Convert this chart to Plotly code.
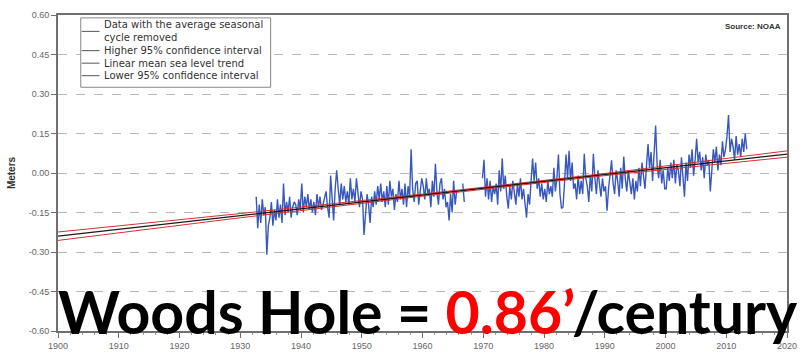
import plotly.graph_objects as go

# ---------------- data ----------------
data_start = 1932.625          # first quarterly sample (decimal year)
data_step = 0.25               # quarterly samples
sea_level_m = [
    -0.09, -0.21,
    -0.12, -0.19, -0.10, -0.16,
    -0.13, -0.31, -0.20, -0.17,
    -0.11, -0.20, -0.14, -0.18,
    -0.10, -0.17, -0.12, -0.19,
    -0.04, -0.16, -0.11, -0.15,
    -0.09, -0.17, -0.13, -0.11,
    -0.12, -0.16, -0.10, -0.14,
    -0.04, -0.15, -0.09, -0.13,
    -0.08, -0.14, -0.10, -0.15,
    -0.11, -0.16, -0.08, -0.13,
    -0.09, -0.14, -0.12, -0.10,
    -0.07, -0.13, -0.17, -0.01,
    -0.08, -0.18, -0.06, 0.01,
    -0.06, -0.12, -0.04, -0.10,
    -0.05, -0.11, -0.07, -0.12,
    -0.02, -0.10, -0.06, -0.11,
    -0.02, -0.09, -0.13, -0.07,
    -0.10, -0.235, -0.15, -0.08,
    -0.12, -0.19, -0.09, -0.13,
    -0.07, -0.12, -0.05, -0.10,
    -0.04, -0.11, -0.07, -0.13,
    -0.05, -0.12, -0.03, -0.09,
    -0.06, -0.14, -0.08, -0.11,
    -0.03, -0.10, -0.06, -0.12,
    -0.04, -0.13, -0.05, -0.09,
    0.09, -0.06, -0.11, -0.04,
    -0.03, -0.12, -0.07, -0.02,
    -0.05, -0.10, -0.02, -0.08,
    -0.06, -0.13, -0.03, -0.09,
    0.035, -0.07, -0.12, -0.04,
    -0.02, -0.10, -0.06, -0.13,
    -0.11, -0.18, -0.08, -0.15,
    -0.03, -0.12, -0.07, None,
    None, None, -0.04, -0.11,
    None, None, None, None,
    None, None, None, None,
    None, None, None, -0.02,
    0.05, -0.09, -0.02, -0.10,
    -0.03, -0.11, -0.05, -0.08,
    -0.04, -0.12, 0.01, -0.07,
    0.055, -0.06, -0.01, -0.09,
    -0.135, -0.05, -0.10, -0.03,
    -0.07, -0.12, -0.04, -0.09,
    -0.02, -0.10, -0.06, -0.11,
    -0.17, -0.08, -0.12, -0.03,
    0.055, -0.03, 0.04, -0.06,
    -0.02, -0.09, -0.04, -0.10,
    -0.06, -0.11, -0.03, -0.08,
    -0.05, -0.09, 0.02, -0.07,
    -0.02, 0.07, -0.08, -0.135,
    -0.13, -0.04, 0.07, -0.02,
    0.084, -0.03, 0.04, -0.06,
    -0.04, -0.10, -0.01, -0.08,
    -0.03, -0.08, 0.073, -0.02,
    -0.05, -0.11, -0.01, -0.07,
    0.073, -0.02, -0.08, 0.01,
    -0.04, -0.09, -0.02, -0.07,
    -0.05, -0.143, -0.06, -0.01,
    0.048, -0.04, -0.08, 0.01,
    -0.03, -0.09, 0.02, -0.06,
    0.062, -0.02, -0.07, 0.01,
    -0.04, -0.08, -0.02, -0.10,
    -0.03, -0.07, 0.02, -0.05,
    0.04, -0.01, -0.06, 0.03,
    0.11, 0.02, 0.08, -0.03,
    0.06, 0.18, 0.03, -0.02,
    0.05, -0.04, 0.01, -0.06,
    -0.06, 0.02, -0.03, 0.04,
    -0.02, 0.05, -0.04, 0.03,
    0.01, -0.05, 0.06, -0.01,
    -0.09, 0.04, -0.03, 0.07,
    0.02, 0.09, -0.01, 0.05,
    0.13, 0.04, 0.08, 0.01,
    0.06, -0.02, 0.07, 0.03,
    0.05, -0.07, 0.02, 0.09,
    0.04, 0.10, 0.01, 0.07,
    0.03, 0.12, 0.06, 0.09,
    0.14, 0.22, 0.08, 0.13,
    0.10, 0.05, 0.14, 0.07,
    0.11, 0.06, 0.13, 0.08,
    0.15, 0.09,
]
data_years = [data_start + i * data_step for i in range(len(sea_level_m))]

trend_years = [1900, 1930, 1960, 1975, 1990, 2020]
trend_m = [-0.240, -0.162, -0.084, -0.045, -0.006, 0.072]
upper_ci_m = [-0.224, -0.154, -0.080, -0.042, -0.002, 0.084]
lower_ci_m = [-0.256, -0.170, -0.088, -0.048, -0.010, 0.060]

y_ticks = [0.60, 0.45, 0.30, 0.15, 0.00, -0.15, -0.30, -0.45, -0.60]
x_ticks = list(range(1900, 2021, 10))

legend_labels = [
    "Data with the average seasonal<br>cycle removed",
    "Higher 95% confidence interval",
    "Linear mean sea level trend",
    "Lower 95% confidence interval",
]

# ---------------- figure ----------------
W, H = 807, 361
ML, MR, MT, MB = 58, 12, 10, 23
PW, PH = W - ML - MR, H - MT - MB


def px(xp):
    return (xp - ML) / PW


def py(yp):
    return 1 - (yp - MT) / PH


fig = go.Figure()
fig.add_trace(go.Scatter(
    x=data_years, y=sea_level_m, mode="lines", name=legend_labels[0],
    line=dict(color="#3858c0", width=1.4), connectgaps=False))
fig.add_trace(go.Scatter(
    x=trend_years, y=upper_ci_m, mode="lines", name=legend_labels[1],
    line=dict(color="#d83030", width=1)))
fig.add_trace(go.Scatter(
    x=trend_years, y=trend_m, mode="lines", name=legend_labels[2],
    line=dict(color="#1a1a1a", width=1.3)))
fig.add_trace(go.Scatter(
    x=trend_years, y=lower_ci_m, mode="lines", name=legend_labels[3],
    line=dict(color="#d83030", width=1)))

axis_col = "#707070"
fig.update_layout(
    width=W, height=H,
    margin=dict(l=ML, r=MR, t=MT, b=MB),
    paper_bgcolor="white", plot_bgcolor="white",
    font=dict(family="Liberation Sans, Arial, sans-serif", color="#555555", size=9),
    showlegend=False,
    xaxis=dict(
        range=[1900, 2020], tickvals=x_ticks, ticktext=[str(v) for v in x_ticks],
        showgrid=False, zeroline=False,
        showline=True, linecolor=axis_col, linewidth=2, mirror=True,
        ticks="outside", ticklen=5, tickcolor=axis_col,
        minor=dict(dtick=2, ticks="outside", ticklen=2, tickcolor="#999999"),
        tickfont=dict(size=9, color="#666666"),
    ),
    yaxis=dict(
        range=[-0.60, 0.60], tickvals=y_ticks,
        ticktext=[f"{v:.2f}" for v in y_ticks],
        showgrid=True, gridcolor="#b8b8b8", griddash="dash", gridwidth=1,
        zeroline=False,
        showline=True, linecolor=axis_col, linewidth=2, mirror=True,
        ticks="outside", ticklen=5, tickcolor=axis_col,
        tickfont=dict(size=9, color="#666666"),
        title=dict(text="<b>Meters</b>", font=dict(size=10, color="#333333"), standoff=11),
    ),
)

# legend box drawn by hand to match the original's compact layout
fig.add_shape(type="rect", xref="paper", yref="paper",
              x0=px(81), x1=px(273), y0=py(85), y1=py(13),
              line=dict(color="#888888", width=1), fillcolor="white", layer="above")
legend_rows = [27, 47, 60, 73]
for row, label in zip(legend_rows, legend_labels):
    fig.add_shape(type="line", xref="paper", yref="paper",
                  x0=px(82), x1=px(100), y0=py(row), y1=py(row),
                  line=dict(color="#555555", width=1), layer="above")
    fig.add_annotation(xref="paper", yref="paper", x=px(102), y=py(row),
                       xanchor="left", yanchor="middle", align="left",
                       text=label, showarrow=False,
                       font=dict(family="DejaVu Sans, sans-serif", size=10, color="#333333"))

fig.add_annotation(
    xref="paper", yref="paper", x=0.995, y=0.985, xanchor="right", yanchor="top",
    text="<b>Source: NOAA</b>", showarrow=False,
    font=dict(size=8, color="#333333"))

fig.add_annotation(
    xref="paper", yref="paper", x=px(808), y=py(357), xanchor="right", yanchor="bottom",
    text="Woods Hole = <span style='color:#ff0000'>0.86’</span>/century",
    showarrow=False,
    font=dict(family="Lato, sans-serif", size=59, color="black", weight="bold"))

fig.write_html("out.html")
